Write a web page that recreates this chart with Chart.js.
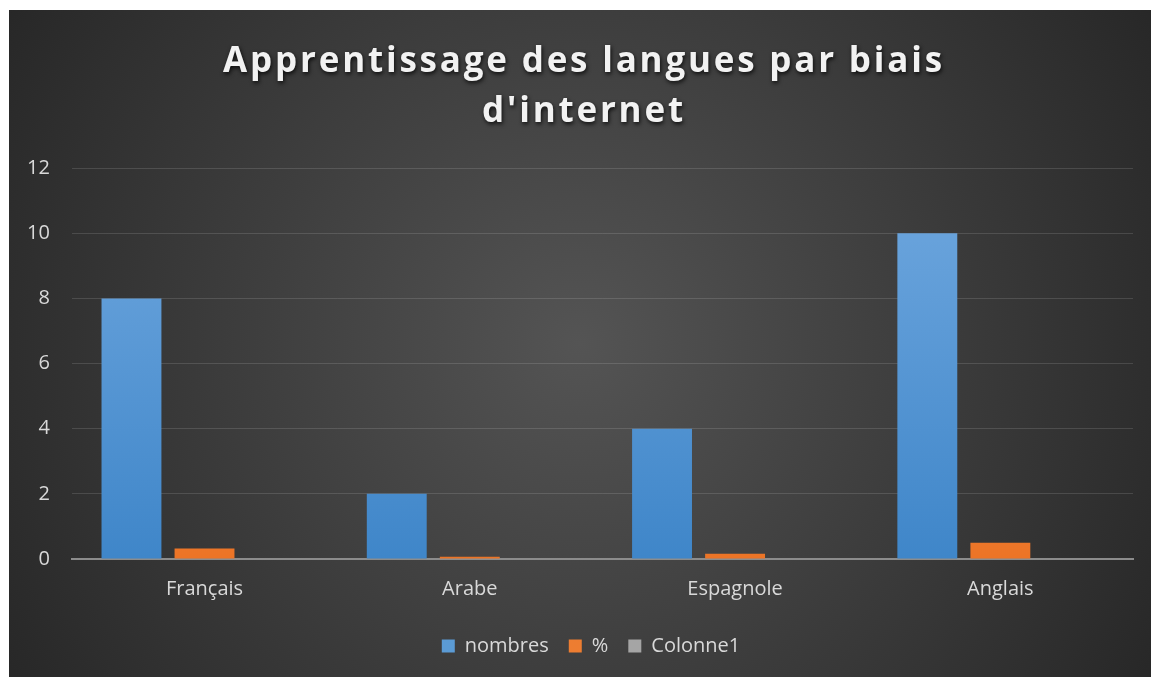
<!DOCTYPE html>
<html>
<head>
<meta charset="utf-8">
<script src="https://cdn.jsdelivr.net/npm/chart.js@4"></script>
<style>
  html, body { margin: 0; padding: 0; background: #fff; }
  #wrap { position: absolute; left: 9px; top: 10px; width: 1142px; height: 667px; }
</style>
</head>
<body>
<div id="wrap"><canvas id="chart"></canvas></div>
<script>
// Chart data
const categories = ['Français', 'Arabe', 'Espagnole', 'Anglais'];
const nombres = [8, 2, 4, 10];
const pourcent = [0.32, 0.07, 0.16, 0.5];
const colonne1 = [0, 0, 0, 0];
const titleLines = ['Apprentissage des langues par biais', "d'internet"];

// vertical gradient for a bar fill
function barFill(top, bottom) {
  return (ctx) => {
    const area = ctx.chart.chartArea;
    if (!area) return bottom;
    const g = ctx.chart.ctx.createLinearGradient(0, area.top, 0, area.bottom);
    g.addColorStop(0, top);
    g.addColorStop(1, bottom);
    return g;
  };
}

// dark radial background like the office "style 8" chart
const background = {
  id: 'background',
  beforeDraw(chart) {
    const { ctx, width, height } = chart;
    const g = ctx.createRadialGradient(width / 2, height / 2, 0, width / 2, height / 2, width * 0.6);
    g.addColorStop(0, '#545454');
    g.addColorStop(1, '#262626');
    ctx.save();
    ctx.fillStyle = g;
    ctx.fillRect(0, 0, width, height);
    ctx.restore();
  }
};

// title gets letter spacing + shadow, title and legend nudged right like the original
const tweaks = {
  id: 'tweaks',
  afterInit(chart) {
    const block = chart.titleBlock;
    if (block) {
      const draw = block.draw.bind(block);
      block.draw = (...args) => {
        const ctx = chart.ctx;
        ctx.save();
        ctx.translate(15, 0);
        ctx.letterSpacing = '2.8px';
        ctx.shadowColor = 'rgba(0,0,0,0.8)';
        ctx.shadowBlur = 4;
        ctx.shadowOffsetX = 1;
        ctx.shadowOffsetY = 2;
        draw(...args);
        ctx.restore();
      };
    }
    const legend = chart.legend;
    if (legend) {
      const drawLegend = legend.draw.bind(legend);
      legend.draw = (...args) => {
        chart.ctx.save();
        chart.ctx.translate(22, 0);
        drawLegend(...args);
        chart.ctx.restore();
      };
    }
  }
};

const chart = new Chart(document.getElementById('chart'), {
  type: 'bar',
  data: {
    labels: categories,
    datasets: [
      {
        label: 'nombres',
        data: nombres,
        backgroundColor: barFill('#70a8df', '#3f86c9'),
      },
      {
        label: '%',
        data: pourcent,
        backgroundColor: barFill('#f8a062', '#ec7426'),
      },
      {
        label: 'Colonne1',
        data: colonne1,
        backgroundColor: barFill('#b8b8b8', '#9a9a9a'),
      },
    ],
  },
  options: {
    responsive: true,
    maintainAspectRatio: false,
    animation: false,
    categoryPercentage: 0.826,
    barPercentage: 0.82,
    layout: { padding: { left: -4, right: 18, top: 27, bottom: 11 } },
    plugins: {
      title: {
        display: true,
        text: titleLines,
        color: '#f2f2f2',
        font: { family: 'Open Sans', size: 35, weight: 'bold', lineHeight: 1.43 },
        padding: { top: 0, bottom: 31 },
      },
      legend: {
        position: 'bottom',
        labels: {
          color: '#d9d9d9',
          font: { family: 'Open Sans', size: 20 },
          boxWidth: 13,
          boxHeight: 13,
          padding: 20,
          generateLabels(chart) {
            const solid = ['#5b9bd5', '#ed7d31', '#a5a5a5'];
            return chart.data.datasets.map((ds, i) => ({
              text: ds.label,
              fillStyle: solid[i],
              strokeStyle: solid[i],
              lineWidth: 0,
              fontColor: '#d9d9d9',
              datasetIndex: i,
            }));
          },
        },
      },
      tooltip: { enabled: false },
    },
    scales: {
      x: {
        grid: { display: false },
        border: { color: '#8c8c8c', width: 2 },
        ticks: {
          color: '#d9d9d9',
          font: { family: 'Open Sans', size: 20 },
          padding: 10,
        },
        afterFit(scale) {
          scale.height += 5; // extra room between axis labels and legend
        },
      },
      y: {
        min: 0,
        max: 12,
        ticks: {
          stepSize: 2,
          color: '#d9d9d9',
          font: { family: 'Open Sans', size: 20 },
          padding: 22,
        },
        grid: { color: 'rgba(255,255,255,0.13)', drawTicks: false },
        border: { display: false },
      },
    },
  },
  plugins: [background, tweaks],
});
</script>
</body>
</html>
